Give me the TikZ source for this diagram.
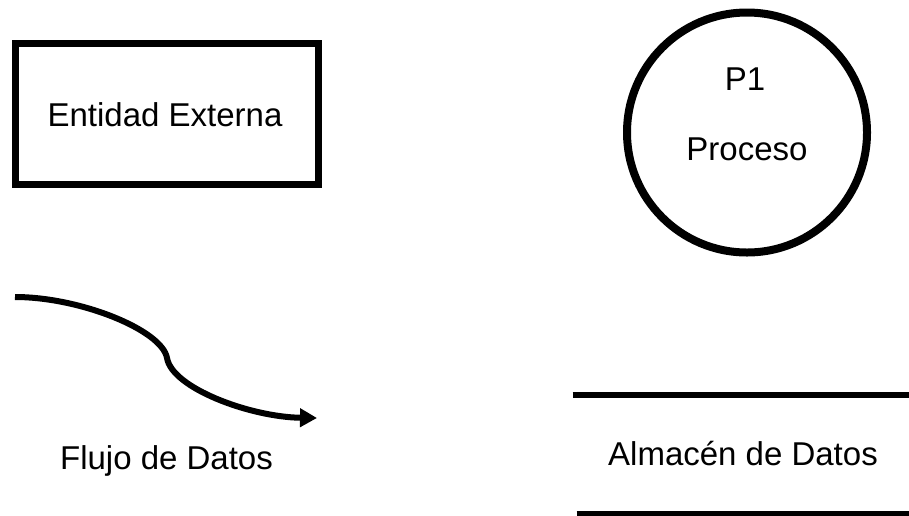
\documentclass[tikz,border=0pt]{standalone}
\usepackage{fontspec}
\setmainfont{Liberation Sans}
\usetikzlibrary{arrows.meta}
\begin{document}
\begin{tikzpicture}[x=1pt,y=1pt,
  lbl/.style={inner sep=0pt,anchor=base,font=\fontsize{33}{40}\selectfont},
  entbox/.style={draw,line width=7pt,minimum width=303pt,minimum height=141pt,inner sep=0pt},
  procc/.style={draw,circle,line width=8pt,minimum size=240pt,inner sep=0pt},
  flow/.style={line width=6pt,-{Triangle[length=17pt,width=18pt]}},
  storeline/.style={line width=6pt}]
\useasboundingbox (0,0) rectangle (909,-515);
\fill[white] (0,0) rectangle (909,-515);
% external entity
\node[entbox] (ent) at (167,-114) {};
\node[lbl] (entt) at (165,-126.7) {Entidad Externa};
% process
\node[procc] (proc) at (747,-132.5) {};
\node[lbl] (p1) at (745,-90) {P1};
\node[lbl] (proct) at (747,-160) {Proceso};
% data flow
\coordinate (fa) at (15,-297);
\coordinate (fm) at (167,-358);
\coordinate (fb) at (317,-418);
\draw[flow] (fa) .. controls (80,-297) and (162,-330) .. (fm)
  .. controls (172,-388) and (250,-417) .. (fb);
\node[lbl] (flujo) at (166.5,-469) {Flujo de Datos};
% data store
\coordinate (s1a) at (572.7,-394.5);
\coordinate (s1b) at (909,-394.5);
\coordinate (s2a) at (576.7,-513.5);
\coordinate (s2b) at (909,-513.5);
\draw[storeline] (s1a) -- (s1b);
\draw[storeline] (s2a) -- (s2b);
\node[lbl] (alm) at (743,-465) {Almacén de Datos};
\end{tikzpicture}
\end{document}
